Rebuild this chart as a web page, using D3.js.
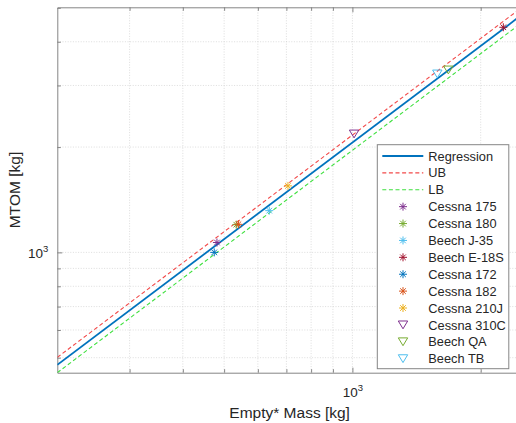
<!DOCTYPE html>
<html>
<head>
<meta charset="utf-8">
<script src="https://cdn.jsdelivr.net/npm/d3@7"></script>
<style>
  body { margin: 0; background: #fff; }
  svg { display: block; }
  text { font-family: "Liberation Sans", Arial, Helvetica, sans-serif; fill: #262626; }
</style>
</head>
<body>
<svg id="chart" width="516" height="423"></svg>
<script>
// ---- data ----------------------------------------------------------------
const aircraft = ["Cessna 175", "Cessna 180", "Beech J-35", "Beech E-18S", "Cessna 172",
                  "Cessna 182", "Cessna 210J", "Cessna 310C", "Beech QA", "Beech TB"];
const emptyMass = [481, 534, 638, 2260, 474, 540, 706, 1009, 1679, 1582];   // kg
const mtom      = [1067, 1200, 1316, 4400, 1000, 1203, 1549, 2180, 3322, 3236]; // kg
const markerKind = ["star", "star", "star", "star", "star", "star", "star", "tri", "tri", "tri"];

// fitted power law and its +/- band, given at the ends of the plotted range
const fitMass  = [203, 2500];
const fitMtom  = [477, 4779];
const ubMtom   = [501, 5018];
const lbMtom   = [453, 4540];

// axis limits and ticks
const xLimits = [203, 2500];
const yLimits = [453, 5018];
const xTickValues = [300, 400, 500, 600, 700, 800, 900, 1000, 2000];
const yTickValues = [500, 600, 700, 800, 900, 1000, 2000, 3000, 4000, 5000];
const labelledTicks = [1000];

// ---- style ---------------------------------------------------------------
const palette = ["#7E2F8E", "#77AC30", "#4DBEEE", "#A2142F", "#0072BD",
                 "#D95319", "#EDB120", "#7E2F8E", "#77AC30", "#4DBEEE"];
const fitColor = "#0072BD", ubColor = "#f24a4a", lbColor = "#3fe03f";
const axisColor = "#858585";

const svg = d3.select("#chart");
const box = { left: 57.3, right: 522, top: 7.3, bottom: 372.7 };

const x = d3.scaleLog().domain(xLimits).range([box.left, box.right]);
const y = d3.scaleLog().domain(yLimits).range([box.bottom, box.top]);

svg.append("defs").append("clipPath").attr("id", "plotClip")
  .append("rect")
  .attr("x", box.left).attr("y", box.top)
  .attr("width", box.right - box.left).attr("height", box.bottom - box.top);

// ---- grid ----------------------------------------------------------------
const grid = svg.append("g").attr("stroke", "#d4d4d4").attr("stroke-width", 0.8)
  .attr("stroke-dasharray", "1,1.6");
grid.selectAll(".gx").data(xTickValues).join("line")
  .attr("x1", d => x(d)).attr("x2", d => x(d))
  .attr("y1", box.top).attr("y2", box.bottom);
grid.selectAll(".gy").data(yTickValues.filter(d => y(d) > box.top + 1)).join("line")
  .attr("y1", d => y(d)).attr("y2", d => y(d))
  .attr("x1", box.left).attr("x2", box.right);

// ---- axes ----------------------------------------------------------------
const tickLen = d => labelledTicks.includes(d) ? 5 : 3.5;
const tickText = d => labelledTicks.includes(d) ? "10" : "";

function styleAxis(g, vertical, sign) {
  g.select(".domain").attr("stroke", axisColor).attr("stroke-width", 1);
  g.selectAll(".tick line").attr("stroke", axisColor)
    .attr(vertical ? "x2" : "y2", d => sign * tickLen(d));
  // only the labelled decade keeps a text element
  g.selectAll(".tick text").filter(d => !labelledTicks.includes(d)).remove();
  g.selectAll(".tick text").attr("font-size", 13.5).attr("fill", "#262626")
    .append("tspan").attr("dy", -6).attr("font-size", 9.5)
    .text(d => Math.round(Math.log10(d)));
}

function bareAxis(g, vertical, sign) {
  g.select(".domain").attr("stroke", axisColor).attr("stroke-width", 1);
  g.selectAll(".tick line").attr("stroke", axisColor)
    .attr(vertical ? "x2" : "y2", d => sign * tickLen(d));
  g.selectAll(".tick text").remove();
}

svg.append("g").attr("transform", `translate(0,${box.bottom})`)
  .call(d3.axisBottom(x).tickValues(xTickValues).tickSizeOuter(0)
        .tickSizeInner(-3.5).tickPadding(15).tickFormat(tickText))
  .call(g => styleAxis(g, false, -1))
  .call(g => g.selectAll(".tick text").attr("dy", "0.71em"));

svg.append("g").attr("transform", `translate(0,${box.top})`)
  .call(d3.axisTop(x).tickValues(xTickValues).tickSizeOuter(0).tickSizeInner(-3.5))
  .call(g => bareAxis(g, false, 1));

svg.append("g").attr("transform", `translate(${box.left},0)`)
  .call(d3.axisLeft(y).tickValues(yTickValues).tickSizeOuter(0)
        .tickSizeInner(-3.5).tickPadding(9).tickFormat(tickText))
  .call(g => styleAxis(g, true, 1))
  .call(g => g.selectAll(".tick text").attr("dy", "0.36em"));

svg.append("g").attr("transform", `translate(${box.right},0)`)
  .call(d3.axisRight(y).tickValues(yTickValues).tickSizeOuter(0).tickSizeInner(-3.5))
  .call(g => bareAxis(g, true, -1));

// axis titles
svg.append("text").attr("x", (box.left + box.right) / 2).attr("y", 417.5)
  .attr("text-anchor", "middle").attr("font-size", 15.5).text("Empty* Mass [kg]");
svg.append("text").attr("transform", `translate(20,${(box.top + box.bottom) / 2}) rotate(-90)`)
  .attr("text-anchor", "middle").attr("font-size", 15.5).text("MTOM [kg]");

// ---- fit lines -----------------------------------------------------------
const plotArea = svg.append("g").attr("clip-path", "url(#plotClip)");
const line = d3.line().x(d => x(d[0])).y(d => y(d[1]));
const series = [
  { name: "Regression", ys: fitMtom, color: fitColor, width: 1.8, dash: null },
  { name: "UB",         ys: ubMtom,  color: ubColor,  width: 1.1, dash: "4,2.6" },
  { name: "LB",         ys: lbMtom,  color: lbColor,  width: 1.1, dash: "4,2.6" }
];
series.forEach(s => {
  plotArea.append("path")
    .datum(fitMass.map((m, i) => [m, s.ys[i]]))
    .attr("d", line).attr("fill", "none")
    .attr("stroke", s.color).attr("stroke-width", s.width)
    .attr("stroke-dasharray", s.dash);
});

// ---- markers -------------------------------------------------------------
const starPath = "M-4,0H4M0,-4V4M-2.8,-2.8L2.8,2.8M-2.8,2.8L2.8,-2.8";
const triPath  = "M-4.7,-3.9L4.7,-3.9L0,3.9Z";
const markerPath = k => k === "star" ? starPath : triPath;

plotArea.selectAll(".pt").data(aircraft).join("path")
  .attr("transform", (d, i) => `translate(${x(emptyMass[i])},${y(mtom[i])})`)
  .attr("d", (d, i) => markerPath(markerKind[i]))
  .attr("fill", "none")
  .attr("stroke", (d, i) => palette[i])
  .attr("stroke-width", 1);

// ---- legend --------------------------------------------------------------
const leg = svg.append("g");
leg.append("rect").attr("x", 377.3).attr("y", 144.7).attr("width", 131.5).attr("height", 224)
  .attr("fill", "#fff").attr("stroke", axisColor).attr("stroke-width", 1);

const rowY = i => 156 + i * 16.89;
const entries = series.map(s => ({ name: s.name, type: "line", s }))
  .concat(aircraft.map((a, i) => ({ name: a, type: "marker", i })));

entries.forEach((e, r) => {
  const cy = rowY(r);
  if (e.type === "line") {
    leg.append("line").attr("x1", 382.3).attr("x2", 423.3).attr("y1", cy).attr("y2", cy)
      .attr("stroke", e.s.color).attr("stroke-width", e.s.width)
      .attr("stroke-dasharray", e.s.dash);
  } else {
    leg.append("path").attr("transform", `translate(403,${cy})`)
      .attr("d", markerPath(markerKind[e.i]))
      .attr("fill", "none").attr("stroke", palette[e.i]).attr("stroke-width", 1);
  }
  leg.append("text").attr("x", 428.3).attr("y", cy).attr("dy", "0.36em")
    .attr("font-size", 12.8).text(e.name);
});
</script>
</body>
</html>
